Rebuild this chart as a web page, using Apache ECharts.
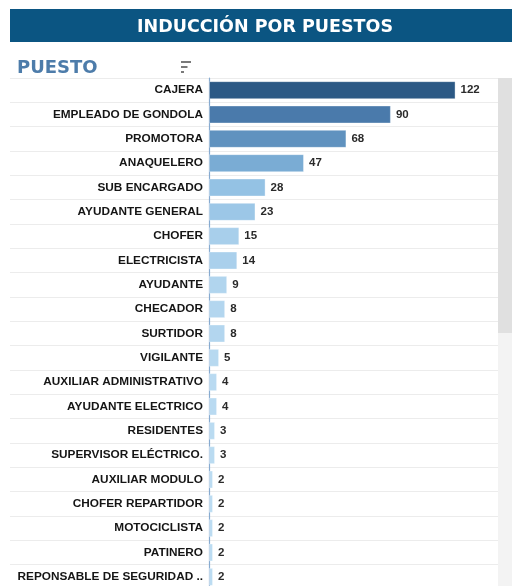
<!DOCTYPE html>
<html>
<head>
<meta charset="utf-8">
<script src="https://cdn.jsdelivr.net/npm/echarts@6/dist/echarts.min.js"></script>
<style>html,body{margin:0;padding:0;background:#fff;overflow:hidden;}#c{width:512px;height:600px;}</style>
</head>
<body>
<div id="c"></div>
<script>
const categories = ["CAJERA","EMPLEADO DE GONDOLA","PROMOTORA","ANAQUELERO","SUB ENCARGADO","AYUDANTE GENERAL","CHOFER","ELECTRICISTA","AYUDANTE","CHECADOR","SURTIDOR","VIGILANTE","AUXILIAR ADMINISTRATIVO","AYUDANTE ELECTRICO","RESIDENTES","SUPERVISOR ELÉCTRICO.","AUXILIAR MODULO","CHOFER REPARTIDOR","MOTOCICLISTA","PATINERO","REPONSABLE DE SEGURIDAD .."];
const values = [122,90,68,47,28,23,15,14,9,8,8,5,4,4,3,3,2,2,2,2,2];
const titleText = "INDUCCIÓN POR PUESTOS";
const headerText = "PUESTO";

const chart = echarts.init(document.getElementById('c'), null, {renderer:'canvas'});
const font = '"Liberation Sans", Arial, sans-serif';
const heavy = '"DejaVu Sans", sans-serif';
chart.setOption({
  animation:false,
  graphic:[
    {type:'rect', shape:{x:10,y:9,width:502,height:33}, style:{fill:'#0b5582'}, z:0},
    {type:'text', x:265, y:27, style:{text:titleText, fill:'#fff', font:'bold 17.5px '+heavy, align:'center', verticalAlign:'middle'}, z:1},
    {type:'text', x:17, y:68, style:{text:headerText, fill:'#4d7caa', font:'bold 18px '+heavy, verticalAlign:'middle'}},
    {type:'rect', shape:{x:181,y:61,width:10,height:2}, style:{fill:'#7a7a7a'}},
    {type:'rect', shape:{x:181,y:66,width:6.5,height:2}, style:{fill:'#7a7a7a'}},
    {type:'rect', shape:{x:181,y:71,width:3,height:2}, style:{fill:'#7a7a7a'}},
    {type:'rect', shape:{x:498,y:78,width:14,height:522}, style:{fill:'#f3f3f3'}},
    {type:'rect', shape:{x:498,y:78,width:14,height:255}, style:{fill:'#e0e0e0'}}
  ],
  grid:[
    {left:10, top:78, width:488, height:511, containLabel:false},
    {left:209, top:78, width:289, height:511, containLabel:false}
  ],
  xAxis:[
    {gridIndex:0, type:'value', show:false, min:0, max:1},
    {gridIndex:1, type:'value', show:false, min:0, max:143}
  ],
  yAxis:[
    {gridIndex:0, type:'category', data:categories, inverse:true, axisLine:{show:false}, axisTick:{show:false}, axisLabel:{show:false},
     splitLine:{show:true, lineStyle:{color:'#ececec', width:1}}},
    {gridIndex:1, type:'category', data:categories, inverse:true,
     axisLine:{show:true, lineStyle:{color:'#86aad0', width:1.2}}, axisTick:{show:false},
     axisLabel:{color:'#151515', fontFamily:font, fontWeight:'bold', fontSize:11.8, margin:6},
     splitLine:{show:false}}
  ],
  visualMap:{type:'continuous', show:false, seriesIndex:0, dimension:0, min:2, max:122,
    inRange:{color:['#bcdcf2','#8ebee2','#6699c5','#4878a9','#2c5985']}},
  series:[{
    type:'bar', xAxisIndex:1, yAxisIndex:1, data:values, barCategoryGap:'26%',
    itemStyle:{borderColor:'rgba(255,255,255,0.35)', borderWidth:1},
    label:{show:true, position:'right', distance:5, color:'#2a2a2a', fontFamily:font, fontWeight:'bold', fontSize:11.5}
  }]
});
</script>
</body>
</html>
